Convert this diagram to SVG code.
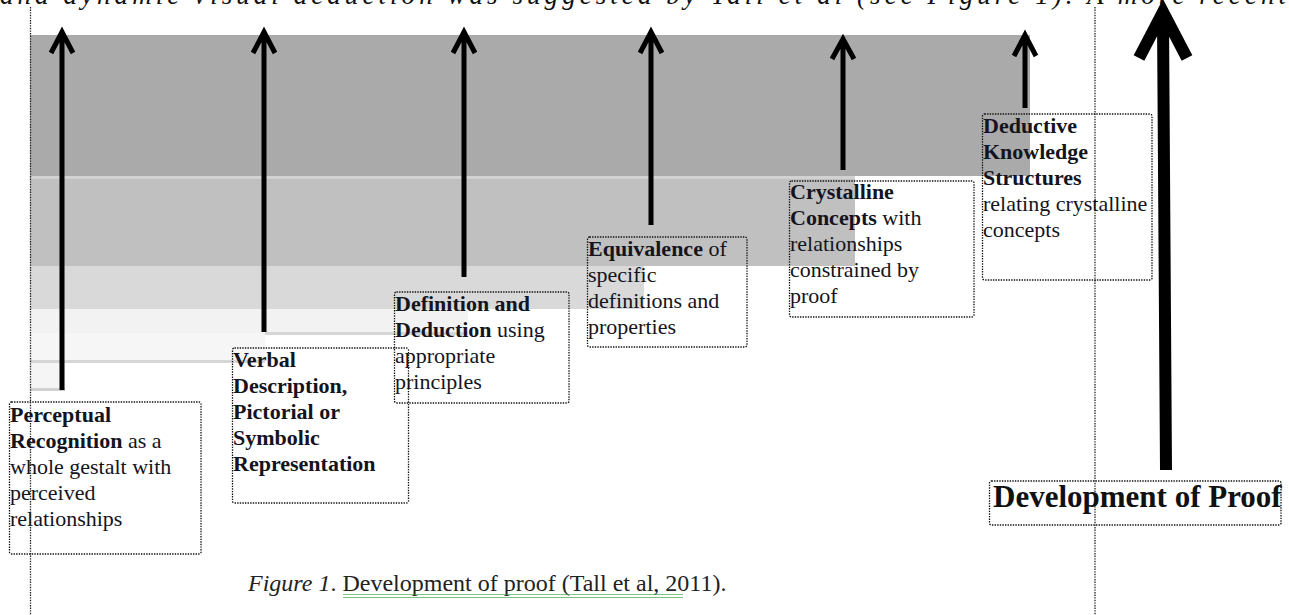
<svg xmlns="http://www.w3.org/2000/svg" width="1289" height="615" viewBox="0 0 1289 615">
<style>
.box{fill:none;stroke:#111;stroke-width:1.3;stroke-dasharray:1.4 1.2}
.vline{fill:none;stroke:#222;stroke-width:1.3;stroke-dasharray:1.4 1.2}
.t{font-family:"Liberation Serif","Times New Roman",serif;font-size:22px;fill:#141420}
.b{font-weight:bold}
.arr{fill:none;stroke:#000;stroke-width:5;stroke-linejoin:miter}
.big{fill:none;stroke:#000;stroke-width:12;stroke-linejoin:miter}
.edge{stroke-width:3}
</style>
<defs>
<pattern id="squig" x="0" y="0" width="4" height="4" patternUnits="userSpaceOnUse">
<polyline points="0,3 1,1 2,3 3,1 4,3" fill="none" stroke="#3aa23a" stroke-width="0.8"/>
</pattern>
</defs>
<rect width="1289" height="615" fill="#fff"/>

<text x="0" y="4" font-family="Liberation Serif, serif" font-style="italic" font-size="27" fill="#111" textLength="1286" lengthAdjust="spacing">and dynamic visual deduction was suggested by Tall et al (see Figure 1). A more recent</text>

<g id="steps">
<rect x="30" y="35" width="1000" height="141" fill="#aaaaaa"/>
<rect x="30" y="176" width="825" height="90" fill="#c0c0c0"/>
<rect x="30" y="266" width="614" height="43" fill="#d9d9d9"/>
<rect x="30" y="309" width="438" height="24" fill="#f2f2f2"/>
<rect x="30" y="333" width="235" height="28" fill="#f6f6f6"/>
<rect x="30" y="361" width="35" height="29" fill="#f5f5f5"/>
<line x1="30" y1="177.5" x2="855" y2="177.5" stroke="#d2d2d2" class="edge"/>
<line x1="265" y1="333.5" x2="468" y2="333.5" stroke="#d6d6d6" class="edge"/>
<line x1="30" y1="361.5" x2="265" y2="361.5" stroke="#d6d6d6" class="edge"/>
<line x1="30" y1="389.5" x2="65" y2="389.5" stroke="#d0d0d0" class="edge"/>
</g>

<g id="guides">
<line class="vline" x1="30.5" y1="7" x2="30.5" y2="615"/>
<line class="vline" x1="1095" y1="7" x2="1095" y2="615"/>
</g>

<g id="connectors">
<path class="arr" d="M62 390 V32 M51 53 L62 32 L73 53"/>
<path class="arr" d="M264 332 V32 M253 53 L264 32 L275 53"/>
<path class="arr" d="M464 277 V32 M453 53 L464 32 L475 53"/>
<path class="arr" d="M651 225 V32 M640 53 L651 32 L662 53"/>
<path class="arr" d="M843 170 V39 M832 59 L843 39 L854 59"/>
<path class="arr" d="M1025 108 V35 M1014 56 L1025 35 L1036 56"/>
<path class="big" d="M1166 470 L1163 18 M1139 58 L1163 12 L1187 58"/>
</g>

<g id="n1">
<rect class="box" x="9.5" y="402" width="191.5" height="152" rx="2"/>
<text class="t" x="10" y="422"><tspan class="b">Perceptual</tspan><tspan x="10" dy="26" class="b">Recognition</tspan> as a<tspan x="10" dy="26">whole gestalt with</tspan><tspan x="10" dy="26">perceived</tspan><tspan x="10" dy="26">relationships</tspan></text>
</g>
<g id="n2">
<rect class="box" x="232.5" y="348" width="176" height="155" rx="2"/>
<text class="t b" x="233" y="367">Verbal<tspan x="233" dy="26">Description,</tspan><tspan x="233" dy="26">Pictorial or</tspan><tspan x="233" dy="26">Symbolic</tspan><tspan x="233" dy="26">Representation</tspan></text>
</g>
<g id="n3">
<rect class="box" x="394.5" y="292" width="174.5" height="111" rx="2"/>
<text class="t" x="395" y="311"><tspan class="b">Definition and</tspan><tspan x="395" dy="26" class="b">Deduction</tspan> using<tspan x="395" dy="26">appropriate</tspan><tspan x="395" dy="26">principles</tspan></text>
</g>
<g id="n4">
<rect class="box" x="587.5" y="237" width="159.5" height="110" rx="2"/>
<text class="t" x="588" y="256"><tspan class="b">Equivalence</tspan> of<tspan x="588" dy="26">specific</tspan><tspan x="588" dy="26">definitions and</tspan><tspan x="588" dy="26">properties</tspan></text>
</g>
<g id="n5">
<rect class="box" x="789.5" y="181" width="184.5" height="136" rx="2"/>
<text class="t" x="790" y="199"><tspan class="b">Crystalline</tspan><tspan x="790" dy="26" class="b">Concepts</tspan> with<tspan x="790" dy="26">relationships</tspan><tspan x="790" dy="26">constrained by</tspan><tspan x="790" dy="26">proof</tspan></text>
</g>
<g id="n6">
<rect class="box" x="982.5" y="114" width="169.5" height="166" rx="2"/>
<text class="t" x="983" y="133"><tspan class="b">Deductive</tspan><tspan x="983" dy="26" class="b">Knowledge</tspan><tspan x="983" dy="26" class="b">Structures</tspan><tspan x="983" dy="26">relating crystalline</tspan><tspan x="983" dy="26">concepts</tspan></text>
</g>
<g id="n7">
<rect class="box" x="989.5" y="481" width="291.5" height="44" rx="2"/>
<text x="993" y="507" font-family="Liberation Serif, serif" font-weight="bold" font-size="31" fill="#111">Development of Proof</text>
</g>

<g id="caption">
<text x="248" y="591" font-family="Liberation Serif, serif" font-size="24" fill="#222"><tspan font-style="italic">Figure 1</tspan>. Development of proof (Tall et al, 2011).</text>
<rect x="343" y="594" width="340" height="4" fill="url(#squig)"/>
</g>
</svg>
